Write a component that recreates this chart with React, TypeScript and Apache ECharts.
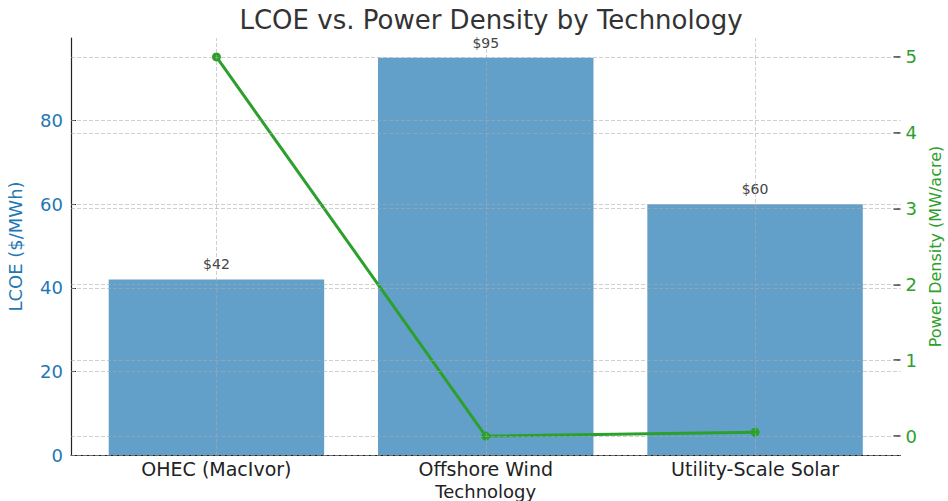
import React, { useEffect, useRef } from "react";
import * as echarts from "echarts";

const categories = ["OHEC (MacIvor)", "Offshore Wind", "Utility-Scale Solar"];
const lcoeValues = [42, 95, 60];
const densityValues = [5, 0.0, 0.05];
const lcoeTicks = [0, 20, 40, 60, 80];
const densityTicks = [0, 1, 2, 3, 4, 5];
const categoryPositions = [0, 1, 2];

const BLUE = "#1f77b4";
const GREEN = "#2ca02c";
const FONT = "DejaVu Sans";

const gridStyle = { color: "rgba(170,170,170,0.7)", type: [4, 2] as any, width: 0.8 };

export default function App() {
  const ref = useRef<HTMLDivElement>(null);
  useEffect(() => {
    document.body.style.margin = "0";
    const chart = echarts.init(ref.current!, null, { renderer: "svg" });
    chart.setOption({
      animation: false,
      textStyle: { fontFamily: FONT },
      title: {
        text: "LCOE vs. Power Density by Technology",
        left: 486,
        top: 2,
        textAlign: "center",
        textStyle: { fontFamily: FONT, fontSize: 26, fontWeight: "normal", color: "#333" },
      },
      grid: { left: 71, right: 47.5, top: 38, bottom: 46, containLabel: false, outerBoundsMode: "none" },
      xAxis: {
        type: "value",
        min: -0.54,
        max: 2.54,
        name: "Technology",
        nameLocation: "middle",
        nameGap: 27,
        nameTextStyle: { fontFamily: FONT, fontSize: 18, color: "#222" },
        axisLine: { show: true, onZero: false, lineStyle: { color: "#222", width: 1.2 } },
        axisTick: { show: true, inside: true, customValues: categoryPositions, length: 5, lineStyle: { color: "#222" } },
        axisLabel: {
          customValues: categoryPositions,
          formatter: (v: number) => categories[Math.round(v)] ?? "",
          fontFamily: FONT,
          fontSize: 19,
          color: "#222",
          margin: 4,
        },
        splitLine: { show: false },
      },
      yAxis: [
        {
          type: "value",
          min: 0,
          max: 99.75,
          position: "left",
          name: "LCOE ($/MWh)",
          nameLocation: "middle",
          nameGap: 47,
          nameTextStyle: { fontFamily: FONT, fontSize: 18, color: BLUE },
          axisLine: { show: true, onZero: false, lineStyle: { color: "#222", width: 1.2 } },
          axisTick: { show: true, inside: true, customValues: lcoeTicks, length: 5, lineStyle: { color: "#222" } },
          axisLabel: { customValues: lcoeTicks, fontFamily: FONT, fontSize: 18, color: BLUE, margin: 8 },
          splitLine: { show: false },
        },
        {
          type: "value",
          min: -0.25,
          max: 5.25,
          position: "right",
          name: "Power Density (MW/acre)",
          nameLocation: "middle",
          nameGap: 26,
          nameRotate: 90,
          nameTextStyle: { fontFamily: FONT, fontSize: 16, color: GREEN },
          axisLine: { show: false, onZero: false },
          axisTick: { show: true, inside: true, customValues: densityTicks, length: 7, lineStyle: { color: "#333", width: 1.5 } },
          axisLabel: { customValues: densityTicks, fontFamily: FONT, fontSize: 18, color: GREEN, margin: 5 },
          splitLine: { show: false },
        },
      ],
      series: [
        {
          type: "bar",
          yAxisIndex: 0,
          data: lcoeValues.map((v, i) => [categoryPositions[i], v]),
          barWidth: "80%",
          itemStyle: { color: "#62a0ca" },
          label: {
            show: true,
            position: "top",
            distance: 8,
            formatter: (p: any) => "$" + p.value[1],
            fontFamily: FONT,
            fontSize: 14,
            color: "#444",
          },
          markLine: {
            silent: true,
            symbol: "none",
            label: { show: false },
            lineStyle: gridStyle,
            data: [
              ...categoryPositions.map((x) => ({ xAxis: x })),
              ...lcoeTicks.map((y) => ({ yAxis: y })),
            ],
          },
          z: 2,
        },
        {
          type: "line",
          yAxisIndex: 1,
          data: densityValues.map((v, i) => [categoryPositions[i], v]),
          symbol: "circle",
          symbolSize: 9,
          lineStyle: { color: GREEN, width: 3 },
          itemStyle: { color: GREEN },
          markLine: {
            silent: true,
            symbol: "none",
            label: { show: false },
            lineStyle: gridStyle,
            data: densityTicks.map((y) => ({ yAxis: y })),
          },
          z: 3,
        },
      ],
    });
    return () => chart.dispose();
  }, []);
  return <div ref={ref} style={{ width: 948, height: 501 }} />;
}
